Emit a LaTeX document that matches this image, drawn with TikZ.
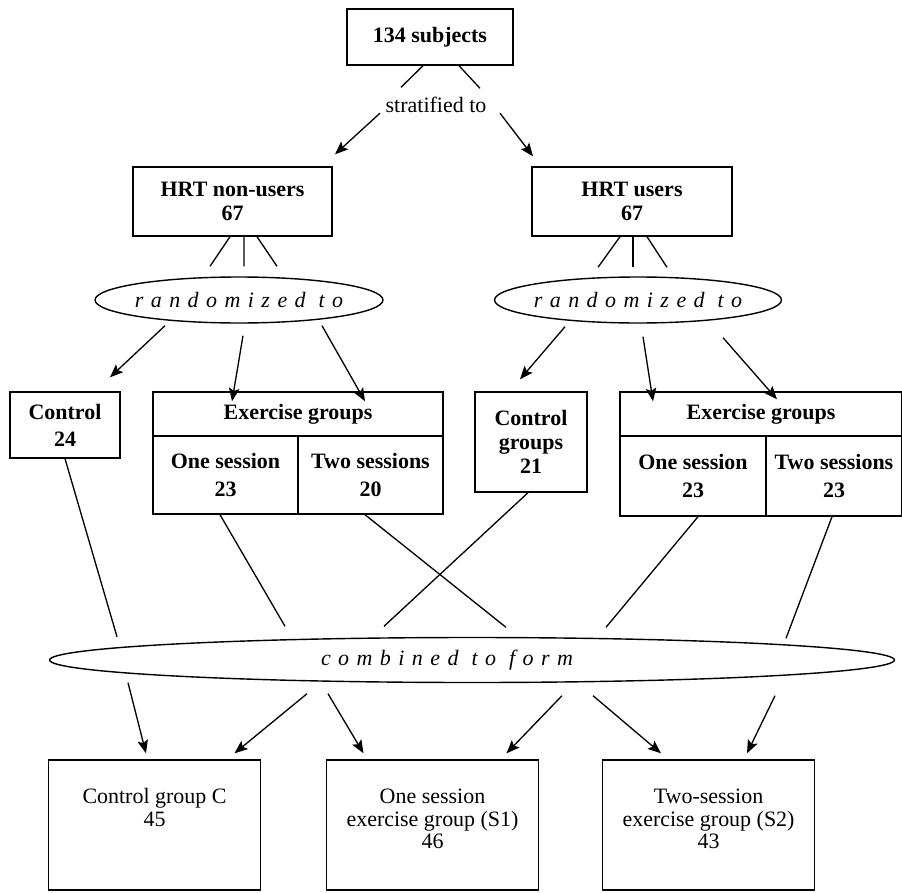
\documentclass[tikz,border=0pt]{standalone}
\usepackage{fontspec}
\setmainfont{Liberation Serif}
\newfontfamily\spacedfont[LetterSpace=34]{Liberation Serif}
\usetikzlibrary{shapes.geometric,arrows.meta,calc,positioning}

\newcommand\bigfont{\fontsize{12.5}{13.5}\selectfont}

\tikzset{
  box/.style={draw, line width=0.8pt, align=center, inner sep=0pt, font=\bigfont\bfseries},
  grpbox/.style={draw, line width=0.8pt, inner sep=0pt, minimum width=4.24cm, minimum height=2.6cm},
  grptext/.style={align=center, inner sep=0pt, font=\fontsize{12.5}{13}\selectfont},
  oval/.style={draw, ellipse, line width=0.8pt, inner sep=0pt, font=\bigfont\spacedfont\itshape},
  ln/.style={line width=0.75pt},
  arr/.style={line width=0.75pt, -{Stealth[length=7.5pt,width=6pt,inset=1.5pt]}}
}

\begin{document}
\begin{tikzpicture}[x=0.02cm, y=-0.02cm]
\useasboundingbox (0,0) rectangle (902,892);

% top
\node[box, minimum width=3.32cm, minimum height=1.12cm] (subj) at (430,37) {134 subjects};
\node[inner sep=0pt, font=\bigfont] (strat) at (436,105) {stratified to};

\node[box, minimum width=3.98cm, minimum height=1.38cm] (hrtN) at (232.5,201.5) {HRT non-users\\67};
\node[box, minimum width=4cm, minimum height=1.38cm] (hrtU) at (632,201.5) {HRT users\\67};

\node[oval, minimum width=5.76cm, minimum height=0.92cm] (randN) at (239,300) {\makebox[0pt]{randomized to}};
\node[oval, minimum width=5.74cm, minimum height=0.92cm] (randU) at (638,300) {\makebox[0pt]{randomized to}};

% groups after randomization
\node[box, minimum width=2.2cm, minimum height=1.32cm] (ctrlN) at (65,425) {Control\\[2pt]24};
\node[box, minimum width=5.8cm, minimum height=0.88cm] (exN) at (298,414) {Exercise groups};
\node[box, minimum width=2.9cm, minimum height=1.56cm] (exN1) at (225.5,475) {One session\\[2pt]23};
\node[box, minimum width=2.9cm, minimum height=1.56cm] (exN2) at (370.5,475) {Two sessions\\[2pt]20};

\node[box, minimum width=2.24cm, minimum height=2cm] (ctrlU) at (531,442) {Control\\groups\\21};
\node[box, minimum width=5.64cm, minimum height=0.88cm] (exU) at (761,414) {Exercise groups};
\node[box, minimum width=2.92cm, minimum height=1.6cm] (exU1) at (693,476) {One session\\[2pt]23};
\node[box, minimum width=2.72cm, minimum height=1.6cm] (exU2) at (834,476) {Two sessions\\[2pt]23};

\node[oval, minimum width=16.9cm, minimum height=0.9cm] (comb) at (472,660) {\makebox[0pt]{combined to form\hspace*{1cm}}};

% final groups
\node[grpbox] (grpC) at (154.5,825) {};
\node[grpbox] (grpS1) at (432.5,825) {};
\node[grpbox] (grpS2) at (708.5,825) {};
\node[grptext, below=0.58cm of grpC.north] (txtC) {Control group C\\45};
\node[grptext, below=0.58cm of grpS1.north] (txtS1) {One session\\exercise group (S1)\\46};
\node[grptext, below=0.58cm of grpS2.north] (txtS2) {Two-session\\exercise group (S2)\\43};

% connectors
\draw[ln] ($(subj.south)+(-7,0)$) -- ($(strat.north)+(-35,-9.5)$);
\draw[ln] ($(subj.south)+(29,0)$) -- ($(strat.north)+(44,-8.5)$);
\draw[arr] ($(strat.south)+(-56,0)$) -- ($(hrtN.north)+(102.5,-12)$);
\draw[arr] ($(strat.south)+(64,0)$) -- ($(hrtU.north)+(-99,-10)$);

\draw[ln] ($(hrtN.south)+(-2.5,0)$) -- ($(randN.north)+(-29,-10)$);
\draw[ln] ($(hrtN.south)+(11.5,0)$) -- ($(randN.north)+(5,-10)$);
\draw[ln] ($(hrtN.south)+(24.5,0)$) -- ($(randN.north)+(38,-10)$);
\draw[ln] ($(hrtU.south)+(-12,0)$) -- ($(randU.north)+(-40,-9)$);
\draw[ln] ($(hrtU.south)+(1,0)$) -- ($(randU.north)+(-5,-9)$);
\draw[ln] ($(hrtU.south)+(15,0)$) -- ($(randU.north)+(29,-9)$);

\draw[arr] ($(randN.south)+(-74,2)$) -- ($(ctrlN.north)+(45,-14)$);
\draw[arr] ($(randN.south)+(4,12)$) -- ($(exN.north)+(-66,10)$);
\draw[arr] ($(randN.south)+(83,2)$) -- ($(exN.north)+(67,10)$);
\draw[arr] ($(randU.south)+(-73,3)$) -- ($(ctrlU.north)+(-11,-12)$);
\draw[arr] ($(randU.south)+(5,13)$) -- ($(exU.north)+(-108,10)$);
\draw[arr] ($(randU.south)+(85,14)$) -- ($(exU.north)+(16,8)$);

\draw[ln] (ctrlN.south) -- ($(comb.north)+(-355,0)$);
\draw[ln] ($(exN1.south)+(-5.5,0)$) -- ($(comb.north)+(-187,-10.5)$);
\draw[ln] ($(exN2.south)+(-5.5,0)$) -- ($(comb.north)+(34,-9.5)$);
\draw[ln] ($(ctrlU.south)+(-3,0)$) -- ($(comb.north)+(-88,-10.5)$);
\draw[ln] ($(exU1.south)+(5,0)$) -- ($(comb.north)+(134,-9.5)$);
\draw[ln] ($(exU2.south)+(-2,0)$) -- ($(comb.north)+(314,1.5)$);

\draw[arr] ($(comb.south)+(-344,-0.5)$) -- ($(grpC.north)+(-8.5,-6)$);
\draw[arr] ($(comb.south)+(-165,10.5)$) -- ($(grpC.north)+(80,-6)$);
\draw[arr] ($(comb.south)+(-144,10.5)$) -- ($(grpS1.north)+(-69,-6)$);
\draw[arr] ($(comb.south)+(90,12.5)$) -- ($(grpS1.north)+(74,-6)$);
\draw[arr] ($(comb.south)+(121,12.5)$) -- ($(grpS2.north)+(-47.5,-6)$);
\draw[arr] ($(comb.south)+(303,12.5)$) -- ($(grpS2.north)+(38.5,-6)$);
\end{tikzpicture}
\end{document}
